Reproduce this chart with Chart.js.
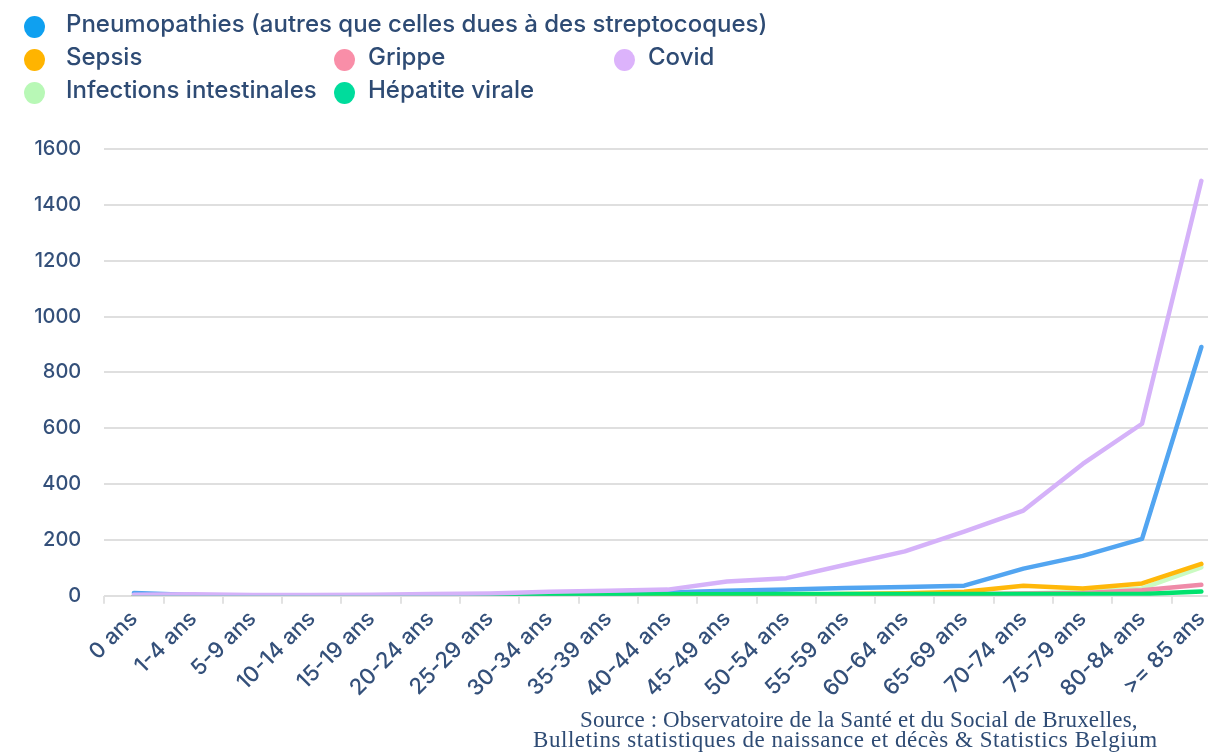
<!DOCTYPE html>
<html lang="fr">
<head>
    <meta charset="UTF-8"/>
    <title>Décès par maladies infectieuses selon l'âge</title>
    <script src="https://cdn.jsdelivr.net/npm/chart.js@4.4.1/dist/chart.umd.min.js"></script>
    <style>
        html, body {
            margin: 0;
            padding: 0;
            width: 1208px;
            height: 753px;
            overflow: hidden;
            background: #ffffff;
        }
        #legende {
            position: absolute;
            left: 24px;
            top: 7px;
            display: grid;
            grid-template-columns: 310px 280px auto;
            grid-auto-rows: 33px;
            font-family: "Inter", "Noto Sans", sans-serif;
            font-weight: 500;
            font-size: 24px;
            color: #2e4b74;
            z-index: 2;
        }
        #legende .item {
            display: flex;
            align-items: center;
            white-space: nowrap;
        }
        #legende .item.large {
            grid-column: 1 / span 3;
        }
        #legende .dot {
            width: 21px;
            height: 22px;
            border-radius: 50%;
            margin-right: 13px;
            flex: none;
            transform: translateY(3px);
        }
        #legende .item.col1 .dot {
            margin-right: 21px;
        }
        #graphe {
            position: absolute;
            left: 0;
            top: 0;
        }
        .source {
            position: absolute;
            white-space: nowrap;
            font-family: "Liberation Serif", "DejaVu Serif", serif;
            font-size: 23px;
            line-height: 22px;
            color: #2e4b74;
        }
        #source1 {
            left: 580px;
            top: 709px;
            letter-spacing: 0.15px;
        }
        #source2 {
            left: 533px;
            top: 729px;
            letter-spacing: 0.55px;
        }
    </style>
</head>
<body>
<div id="legende"></div>
<canvas id="graphe" width="1240" height="753"></canvas>
<div class="source" id="source1">Source : Observatoire de la Santé et du Social de Bruxelles,</div>
<div class="source" id="source2">Bulletins statistiques de naissance et décès &amp; Statistics Belgium</div>
<script>
    // classes d'âge
    var ages = ["0 ans", "1-4 ans", "5-9 ans", "10-14 ans", "15-19 ans", "20-24 ans", "25-29 ans",
        "30-34 ans", "35-39 ans", "40-44 ans", "45-49 ans", "50-54 ans", "55-59 ans", "60-64 ans",
        "65-69 ans", "70-74 ans", "75-79 ans", "80-84 ans", ">= 85 ans"];

    // nombre de décès par cause
    var pneumopathies = [10, 3, 1, 1, 1, 2, 2, 4, 6, 12, 18, 22, 28, 31, 36, 97, 143, 204, 891];
    var sepsis = [0, 0, 0, 0, 0, 0, 0, 1, 1, 2, 3, 4, 6, 9, 14, 36, 26, 44, 114];
    var grippe = [1, 0, 0, 0, 0, 0, 0, 0, 0, 1, 1, 2, 2, 3, 5, 8, 10, 20, 39];
    var covid = [4, 5, 3, 3, 4, 6, 8, 14, 18, 22, 51, 63, 111, 159, 230, 305, 472, 616, 1486];
    var infectionsIntestinales = [1, 0, 0, 0, 0, 0, 0, 0, 0, 1, 1, 1, 2, 2, 4, 8, 14, 26, 102];
    var hepatiteVirale = [0, 0, 0, 0, 0, 0, 1, 3, 4, 5, 5, 6, 6, 6, 6, 6, 6, 6, 15];

    var yTicks = [0, 200, 400, 600, 800, 1000, 1200, 1400, 1600];

    var series = [
        {nom: "Pneumopathies (autres que celles dues à des streptocoques)", valeurs: pneumopathies, trait: "#52a5f1", pastille: "#0fa0f0", ordre: 3},
        {nom: "Sepsis", valeurs: sepsis, trait: "#ffb80a", pastille: "#ffb400", ordre: 4},
        {nom: "Grippe", valeurs: grippe, trait: "#ef8aa8", pastille: "#f98ea8", ordre: 5},
        {nom: "Covid", valeurs: covid, trait: "#d5b2f9", pastille: "#dcb3fb", ordre: 1},
        {nom: "Infections intestinales", valeurs: infectionsIntestinales, trait: "#cafbc2", pastille: "#b8f8b6", ordre: 6},
        {nom: "Hépatite virale", valeurs: hepatiteVirale, trait: "#00e26e", pastille: "#00dc9c", ordre: 2}
    ];

    // légende HTML (grille de 3 colonnes, la première entrée sur toute la ligne)
    var legende = document.getElementById("legende");
    series.forEach(function (s, i) {
        var item = document.createElement("div");
        var col1 = i === 0 || i === 1 || i === 4;
        item.className = "item" + (i === 0 ? " large" : "") + (col1 ? " col1" : "");
        var dot = document.createElement("span");
        dot.className = "dot";
        dot.style.background = s.pastille;
        item.appendChild(dot);
        item.appendChild(document.createTextNode(s.nom));
        legende.appendChild(item);
    });

    var couleurTexte = "#34507a";
    var police = "'Inter', 'Noto Sans', sans-serif";

    var ctx = document.getElementById("graphe");
    var graphe = new Chart(ctx, {
        type: "line",
        data: {
            labels: ages,
            datasets: series.map(function (s) {
                return {
                    label: s.nom,
                    data: s.valeurs,
                    borderColor: s.trait,
                    backgroundColor: s.trait,
                    borderWidth: 4.5,
                    borderCapStyle: "round",
                    borderJoinStyle: "round",
                    pointRadius: 0,
                    pointHoverRadius: 0,
                    tension: 0,
                    fill: false,
                    order: s.ordre
                };
            })
        },
        options: {
            responsive: false,
            animation: false,
            layout: {
                padding: {left: 11, right: 9, top: 149, bottom: 48}
            },
            plugins: {
                legend: {display: false},
                tooltip: {enabled: false}
            },
            scales: {
                x: {
                    offset: true,
                    grid: {
                        offset: true,
                        drawOnChartArea: false,
                        drawTicks: true,
                        tickLength: 8,
                        color: "#e2e2e2",
                        lineWidth: 2
                    },
                    border: {display: false},
                    ticks: {
                        autoSkip: false,
                        minRotation: 45,
                        maxRotation: 45,
                        padding: 2,
                        color: couleurTexte,
                        font: {family: police, size: 22, weight: 500}
                    }
                },
                y: {
                    min: 0,
                    max: 1600,
                    afterBuildTicks: function (axis) {
                        axis.ticks = yTicks.map(function (v) { return {value: v}; });
                    },
                    grid: {
                        color: "#dfdfdf",
                        lineWidth: 2,
                        drawTicks: false
                    },
                    border: {display: false},
                    ticks: {
                        padding: 23,
                        color: couleurTexte,
                        font: {family: police, size: 20, weight: 500},
                        callback: function (v) { return String(v); }
                    }
                }
            }
        }
    });
</script>
</body>
</html>
